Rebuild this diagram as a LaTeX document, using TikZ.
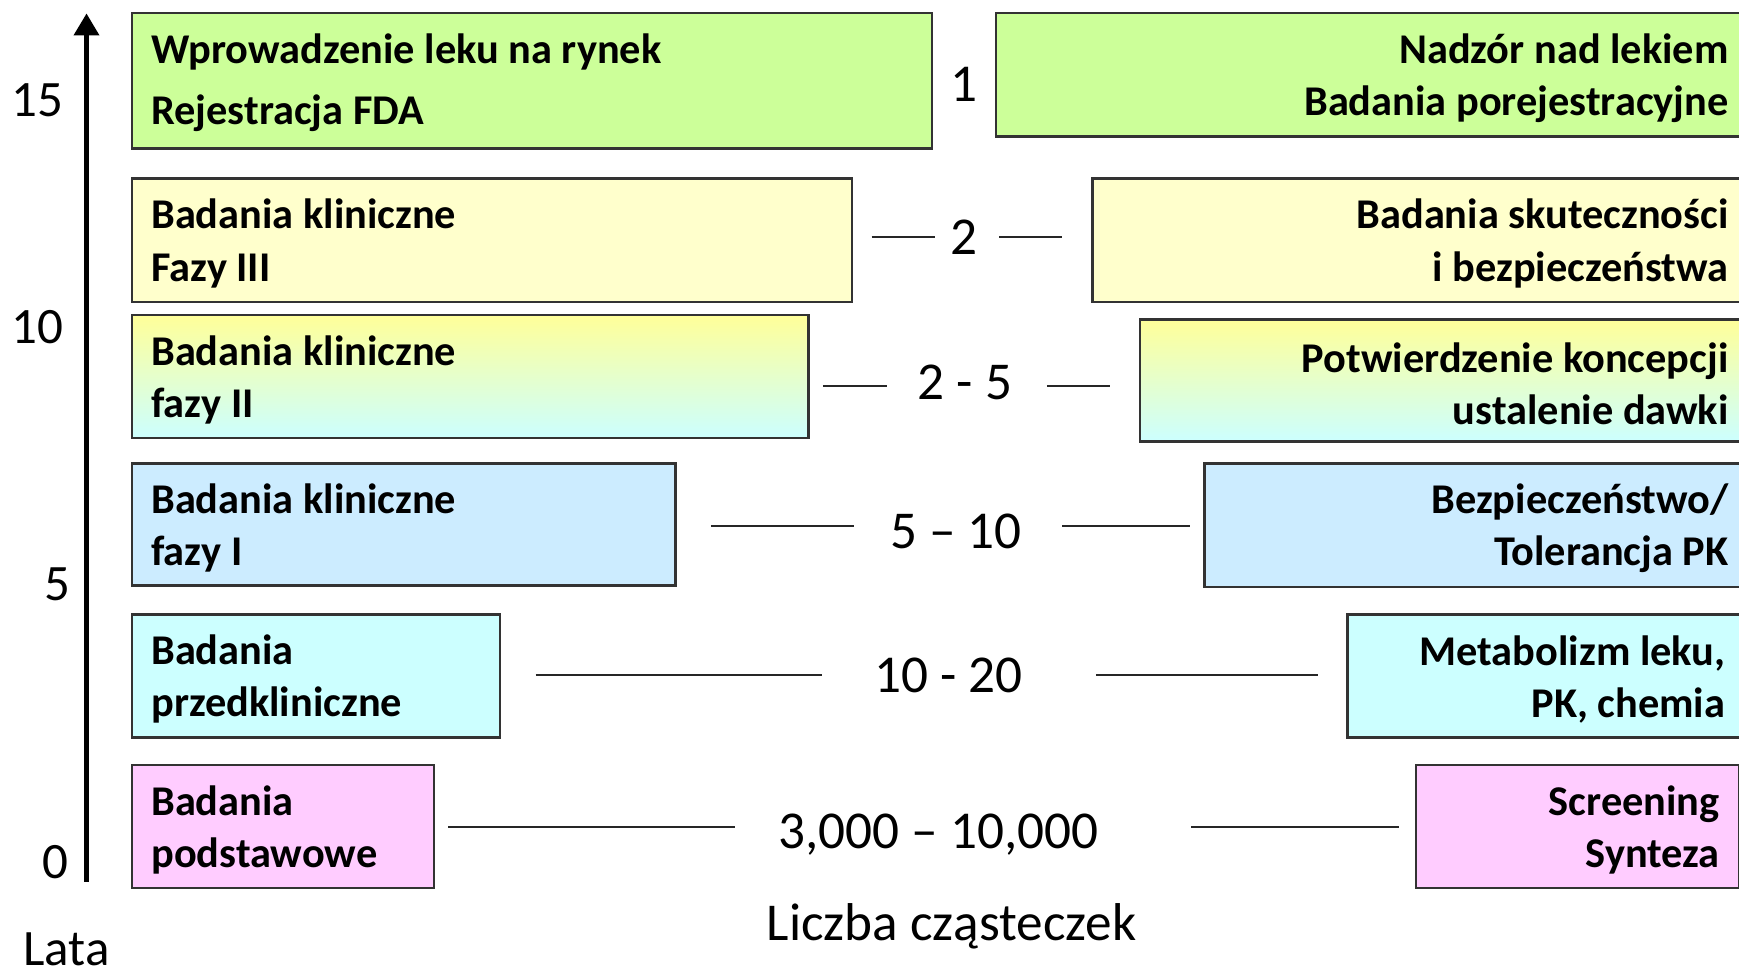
\documentclass[tikz,border=0pt]{standalone}
\usepackage{fontspec}
\setmainfont{Carlito}
\usetikzlibrary{arrows.meta}
\definecolor{stgreen}{HTML}{CCFF99}
\definecolor{styellow}{HTML}{FFFFCC}
\definecolor{stgradtop}{HTML}{FFFF99}
\definecolor{stcyan}{HTML}{CCFFFF}
\definecolor{stblue}{HTML}{CCECFF}
\definecolor{stpink}{HTML}{FFCCFF}
\begin{document}
\begin{tikzpicture}[x=0.5pt,y=-0.5pt,
  stagebox/.style={draw=black!80, line width=1pt, anchor=north west, inner sep=0pt},
  stagetext/.style={inner sep=0pt, font=\bfseries\fontsize{19.1}{23.5}\selectfont},
  lefttext/.style={stagetext, anchor=west, align=left},
  righttext/.style={stagetext, anchor=east, align=right},
  count/.style={inner sep=0pt, font=\fontsize{24}{28}\selectfont},
  axislabel/.style={inner sep=0pt, font=\fontsize{23}{27}\selectfont},
  link/.style={draw=black!85, line width=0.9pt}]
\useasboundingbox (0,0) rectangle (1568,881);

% time axis
\coordinate (axbottom) at (78,795);
\coordinate (axtop) at (78,12);
\draw[line width=2.5pt, -{Triangle[width=11pt,length=10pt]}] (axbottom) -- (axtop);
\node[axislabel] (y15) at (34,90) {15};
\node[axislabel] (y10) at (34,295) {10};
\node[axislabel] (y5) at (52,527) {5};
\node[axislabel] (y0) at (50,777) {0};
\node[axislabel] (lata) at (60,856) {Lata};

% left column: stages
\node[stagebox, fill=stgreen, minimum width=721*0.5pt, minimum height=122*0.5pt] (l1) at (118,11) {};
\node[stagebox, fill=styellow, minimum width=649*0.5pt, minimum height=111*0.5pt] (l2) at (118,160) {};
\node[stagebox, top color=stgradtop, bottom color=stcyan, minimum width=610*0.5pt, minimum height=111*0.5pt] (l3) at (118,283) {};
\node[stagebox, fill=stblue, minimum width=490*0.5pt, minimum height=110*0.5pt] (l4) at (118,417) {};
\node[stagebox, fill=stcyan, minimum width=332*0.5pt, minimum height=111*0.5pt] (l5) at (118,553) {};
\node[stagebox, fill=stpink, minimum width=272*0.5pt, minimum height=111*0.5pt] (l6) at (118,689) {};

\node[lefttext] (l1t) at ([shift={(9pt,-1pt)}]l1.west) {Wprowadzenie leku na rynek\\[4pt]Rejestracja FDA};
\node[lefttext] (l2t) at ([shift={(9pt,-1.5pt)}]l2.west) {Badania kliniczne\\Fazy III};
\node[lefttext] (l3t) at ([shift={(9pt,-1.5pt)}]l3.west) {Badania kliniczne\\fazy II};
\node[lefttext] (l4t) at ([shift={(9pt,-1.5pt)}]l4.west) {Badania kliniczne\\fazy I};
\node[lefttext] (l5t) at ([shift={(9pt,-1.5pt)}]l5.west) {Badania\\przedkliniczne};
\node[lefttext] (l6t) at ([shift={(9pt,-1.5pt)}]l6.west) {Badania\\podstawowe};

% right column: activities
\node[stagebox, fill=stgreen, minimum width=678*0.5pt, minimum height=111*0.5pt] (r1) at (897,11) {};
\node[stagebox, fill=styellow, minimum width=591*0.5pt, minimum height=111*0.5pt] (r2) at (984,160) {};
\node[stagebox, top color=stgradtop, bottom color=stcyan, minimum width=548*0.5pt, minimum height=110*0.5pt] (r3) at (1027,287) {};
\node[stagebox, fill=stblue, minimum width=490*0.5pt, minimum height=111*0.5pt] (r4) at (1085,417) {};
\node[stagebox, fill=stcyan, minimum width=358*0.5pt, minimum height=111*0.5pt] (r5) at (1214,553) {};
\node[stagebox, fill=stpink, minimum width=291*0.5pt, minimum height=111*0.5pt] (r6) at (1276,689) {};

\node[righttext] (r1t) at ([shift={(-9pt,-1.5pt)}]r1.east) {Nadzór nad lekiem\\Badania porejestracyjne};
\node[righttext] (r2t) at ([shift={(-9pt,-1.5pt)}]r2.east) {Badania skuteczności\\i bezpieczeństwa};
\node[righttext] (r3t) at ([shift={(-9pt,-1.5pt)}]r3.east) {Potwierdzenie koncepcji\\ustalenie dawki};
\node[righttext] (r4t) at ([shift={(-9pt,-1.5pt)}]r4.east) {Bezpieczeństwo/\\Tolerancja PK};
\node[righttext] (r5t) at ([shift={(-9pt,-1.5pt)}]r5.east) {Metabolizm leku,\\PK, chemia};
\node[righttext] (r6t) at ([shift={(-9pt,-1.5pt)}]r6.east) {Screening\\Synteza};

% number of molecules at each stage
\node[count] (n1) at (869,76) {1};
\node[count] (n2) at (869,214) {2};
\node[count] (n3) at (870,345) {2 - 5};
\node[count] (n4) at (862,479) {5 – 10};
\node[count] (n5) at (855,609) {10 - 20};
\node[count] (n6) at (846,753) {3,000 – 10,000};
\node[count] (molecules) at (858,835) {Liczba cząsteczek};

% leader dashes around the counts
\coordinate (a2l) at (786,214); \coordinate (b2l) at (843,214);
\coordinate (a2r) at (901,214); \coordinate (b2r) at (958,214);
\coordinate (a3l) at (742,348); \coordinate (b3l) at (800,348);
\coordinate (a3r) at (944,348); \coordinate (b3r) at (1001,348);
\coordinate (a4l) at (641,474); \coordinate (b4l) at (770,474);
\coordinate (a4r) at (958,474); \coordinate (b4r) at (1073,474);
\coordinate (a5l) at (483,609); \coordinate (b5l) at (741,609);
\coordinate (a5r) at (988,609); \coordinate (b5r) at (1188,609);
\coordinate (a6l) at (404,746); \coordinate (b6l) at (663,746);
\coordinate (a6r) at (1074,746); \coordinate (b6r) at (1261,746);
\foreach \k in {2,...,6} {
  \draw[link] (a\k l) -- (b\k l);
  \draw[link] (a\k r) -- (b\k r);
}
\end{tikzpicture}
\end{document}
